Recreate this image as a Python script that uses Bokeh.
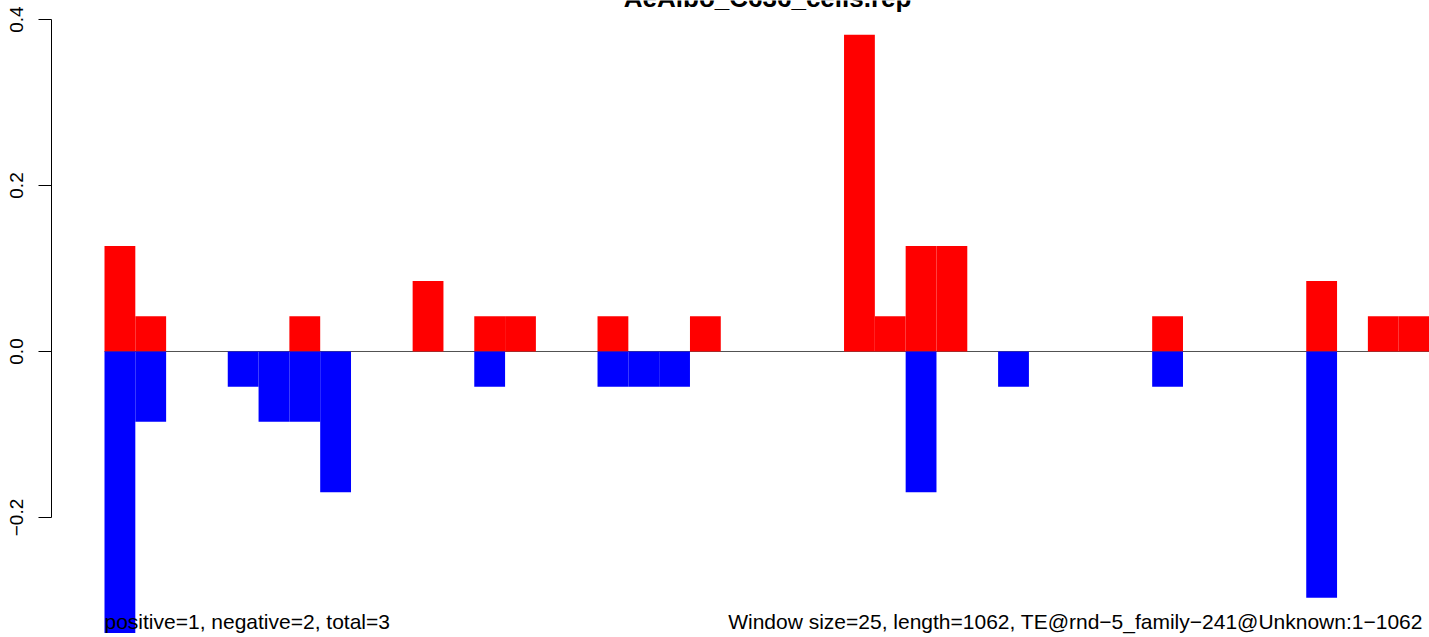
from bokeh.plotting import figure
from bokeh.models import Range1d, FixedTicker, ColumnDataSource
from bokeh.core.properties import value
from bokeh.embed import file_html
from bokeh.resources import INLINE

# ---- data -------------------------------------------------------------
title_text = "AeAlbo_C636_cells.rep"
left_note = "positive=1, negative=2, total=3"
right_note = "Window size=25, length=1062, TE@rnd\u22125_family\u2212241@Unknown:1\u22121062"

window_size = 25
n_windows = 43

positive = [0.1272, 0.0424, 0, 0, 0, 0, 0.0424, 0, 0, 0,
            0.0848, 0, 0.0424, 0.0424, 0, 0, 0.0424, 0, 0, 0.0424,
            0, 0, 0, 0, 0.3816, 0.0424, 0.1272, 0.1272, 0, 0,
            0, 0, 0, 0, 0.0424, 0, 0, 0, 0, 0.0848,
            0, 0.0424, 0.0424]
negative = [-0.3392, -0.0848, 0, 0, -0.0424, -0.0848, -0.0848, -0.1696, 0, 0,
            0, 0, -0.0424, 0, 0, 0, -0.0424, -0.0424, -0.0424, 0,
            0, 0, 0, 0, 0, 0, -0.1696, 0, 0, -0.0424,
            0, 0, 0, 0, -0.0424, 0, 0, 0, 0, -0.2968,
            0, 0, 0]

y_ticks = [-0.2, 0.0, 0.2, 0.4]
y_tick_labels = {-0.2: "\u22120.2", 0.0: "0.0", 0.2: "0.2", 0.4: "0.4"}

starts = [i * window_size for i in range(n_windows)]
ends = [s + window_size for s in starts]
zeros = [0] * n_windows

src = ColumnDataSource(dict(left=starts, right=ends, pos=positive, neg=negative, base=zeros))

# ---- figure -----------------------------------------------------------
p = figure(width=1429, height=637, output_backend="svg", toolbar_location=None,
           x_range=Range1d(-43, 1075), y_range=Range1d(-0.3446, 0.4229),
           x_axis_location=None, y_axis_location="left",
           min_border_left=51, min_border_right=0, min_border_top=0, min_border_bottom=0)
p.outline_line_color = None
p.grid.visible = False
p.background_fill_color = "white"
p.border_fill_color = "white"

ax = p.yaxis[0]
ax.ticker = FixedTicker(ticks=y_ticks)
ax.major_label_overrides = y_tick_labels
ax.bounds = (min(y_ticks), max(y_ticks))
ax.minor_tick_line_color = None
ax.major_tick_in = 0
ax.major_tick_out = 13
ax.major_tick_line_color = "black"
ax.axis_line_color = "black"
ax.major_label_orientation = "vertical"
ax.major_label_text_font = "Liberation Sans"
ax.major_label_text_font_size = "19px"
ax.major_label_text_color = "black"
ax.major_label_standoff = 15

# zero line (under the bars)
p.segment(x0=[starts[0]], y0=[0], x1=[ends[-1]], y1=[0], line_color="#505050", line_width=1)

# bars
p.quad(left="left", right="right", top="pos", bottom="base", source=src,
       fill_color="#FF0000", line_color=None)
p.quad(left="left", right="right", top="base", bottom="neg", source=src,
       fill_color="#0000FF", line_color=None)

# texts
p.text(x=[538], y=[0.4139], text=[title_text], text_font=value("Liberation Sans"),
       text_font_size="26px", text_font_style="bold", text_align="center",
       text_baseline="alphabetic", text_color="black", y_offset=-10)
p.text(x=[0], y=[-0.3361], text=[left_note], text_font=value("Liberation Sans"),
       text_font_size="21px", text_align="left", text_baseline="alphabetic",
       text_color="black", y_offset=-9)
p.text(x=[506], y=[-0.3361], text=[right_note], text_font=value("Liberation Sans"),
       text_font_size="21px", text_align="left", text_baseline="alphabetic",
       text_color="black", y_offset=-9)

open("out.html", "w").write(file_html(p, INLINE))
